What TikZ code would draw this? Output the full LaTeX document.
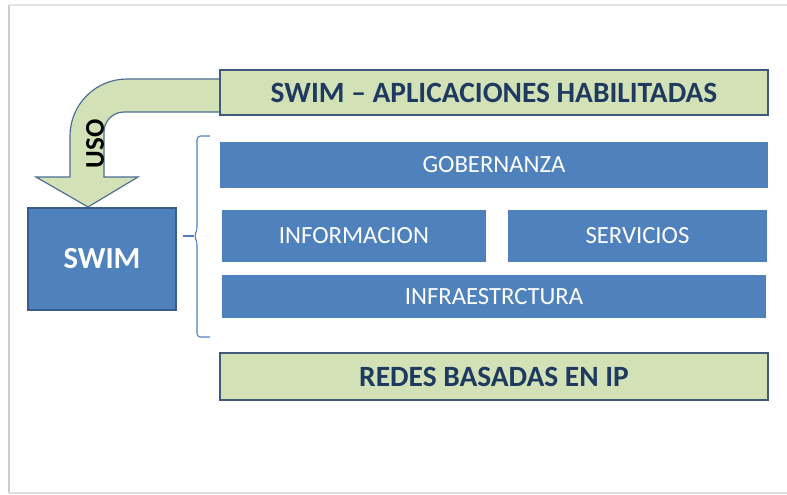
\documentclass[tikz,border=0pt]{standalone}
\usepackage{fontspec}
\setmainfont{Carlito}
\definecolor{azulcaja}{HTML}{4F81BD}
\definecolor{azulborde}{HTML}{385D8A}
\definecolor{verdecaja}{HTML}{D3E1B6}
\definecolor{marino}{HTML}{1F3A60}

\begin{document}
\begin{tikzpicture}[x=0.85pt,y=-0.85pt,
  greenbox/.style={draw=marino!85, line width=1.6pt, fill=verdecaja, text=marino,
    font=\fontsize{25}{28}\selectfont\bfseries, inner sep=0pt},
  bluebox/.style={fill=azulcaja, text=white, font=\fontsize{21}{24}\selectfont, inner sep=0pt}]

  \useasboundingbox (0,0) rectangle (787,495);

  % Marco de la diapositiva
  \draw[gray!20, line width=1.5pt] (787,5) -- (9,5);
  \draw[gray!40, line width=2pt] (9,5) -- (9,493);
  \draw[gray!25, line width=1.5pt] (9,493) -- (787,493);

  % Flecha curva "USO"
  \draw[azulborde!90, line width=1pt, fill=verdecaja]
    (225,79) -- (127,79) arc[start angle=270, end angle=180, radius=57]
    -- (70,177) -- (36,177) -- (88,207) -- (138,177) -- (104,177)
    -- (104,132) arc[start angle=180, end angle=270, radius=20]
    -- (225,112) -- cycle;
  \node (uso) at (95,144) [rotate=90, font=\fontsize{23}{26}\selectfont\bfseries] {USO};

  % Capa superior
  \node (apps) at (494,92.5) [greenbox, minimum width=465.8pt, minimum height=38.25pt]
    {SWIM -- APLICACIONES HABILITADAS};

  % Componentes de SWIM
  \node (gob) at (494,165) [bluebox, minimum width=465.8pt, minimum height=39.1pt] {GOBERNANZA};
  \node (info) at (354,236) [bluebox, minimum width=224.4pt, minimum height=44.2pt] {INFORMACION};
  \node (serv) at (637.5,236) [bluebox, minimum width=220.15pt, minimum height=44.2pt] {SERVICIOS};
  \node (infra) at (494,296.5) [bluebox, minimum width=462.4pt, minimum height=36.55pt] {INFRAESTRCTURA};

  % Caja SWIM
  \node (swim) at (102,259) [bluebox, draw=azulborde, line width=1.2pt, minimum width=125.8pt,
    minimum height=86.7pt, font=\fontsize{26}{30}\selectfont\bfseries] {SWIM};

  % Llave
  \draw[azulcaja, line width=0.9pt, rounded corners=3pt]
    (210,136) -- (197,136) -- (197,231) -- (194,236) -- (197,241) -- (197,337) -- (210,337);
  \draw[azulcaja, line width=0.9pt] (194,236) -- (183,236);

  % Capa inferior
  \node (redes) at (494,376.5) [greenbox, minimum width=465.8pt, minimum height=40pt]
    {REDES BASADAS EN IP};

\end{tikzpicture}
\end{document}
